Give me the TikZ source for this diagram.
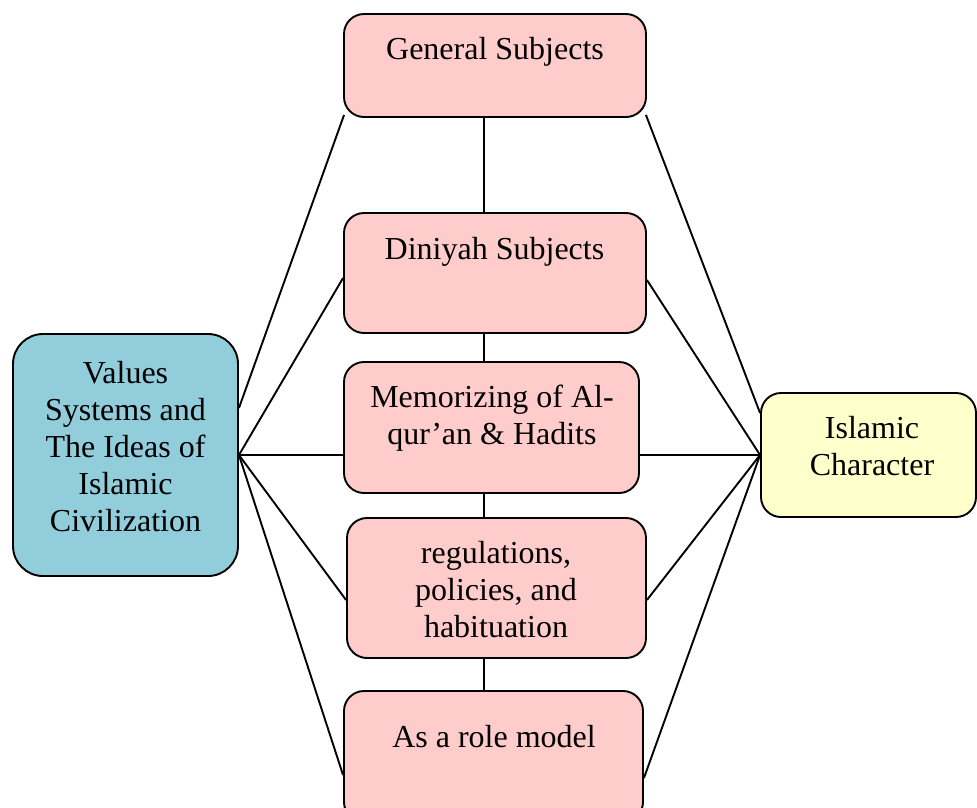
\documentclass[tikz,border=0pt]{standalone}
\usepackage{fontspec}
\setmainfont{Liberation Serif}
\definecolor{pinkc}{HTML}{FFCCCC}
\definecolor{bluec}{HTML}{92CDDC}
\definecolor{yellowc}{HTML}{FFFFCC}
\tikzset{
  box/.style={draw, line width=1.9pt, rounded corners=20pt, inner sep=0pt},
  pinkbox/.style={box, fill=pinkc},
  lbl/.style={anchor=north, inner sep=0pt, align=center, font=\fontsize{32}{37}\selectfont},
  conn/.style={line width=1.9pt},
}
\begin{document}
\begin{tikzpicture}[x=1pt, y=-1pt]
\useasboundingbox (0,0) rectangle (977,807);
% boxes
\node[pinkbox, minimum width=302pt, minimum height=103pt] (gen) at (495,65.5) {};
\node[pinkbox, minimum width=302pt, minimum height=120pt] (din) at (495,273) {};
\node[pinkbox, minimum width=295pt, minimum height=131pt] (mem) at (491.5,427.5) {};
\node[pinkbox, minimum width=299pt, minimum height=140pt] (reg) at (496.5,588) {};
\node[pinkbox, minimum width=299pt, minimum height=131pt] (role) at (493.5,756.5) {};
\node[box, fill=bluec, rounded corners=30pt, minimum width=225pt, minimum height=242pt] (val) at (125.5,455) {};
\node[box, fill=yellowc, minimum width=215pt, minimum height=124pt] (isl) at (868.5,455) {};
% labels
\node[lbl] (genT) at (495,33.1) {\strut General Subjects};
\node[lbl] (dinT) at (494.5,233.1) {\strut Diniyah Subjects};
\node[lbl] (memT) at (492,381.1) {\strut Memorizing of Al-\\qur’an \& Hadits};
\node[lbl] (regT) at (496,537.1) {\strut regulations,\\policies, and\\habituation};
\node[lbl] (roleT) at (494,721.1) {\strut As a role model};
\node[lbl] (valT) at (125.5,357.1) {\strut Values\\Systems and\\The Ideas of\\Islamic\\Civilization};
\node[lbl] (islT) at (872,412.1) {\strut Islamic\\Character};
% vertical connectors
\coordinate (vx) at (484,0);
\draw[conn] (gen.south -| vx) -- (din.north -| vx);
\draw[conn] (din.south -| vx) -- (mem.north -| vx);
\draw[conn] (mem.south -| vx) -- (reg.north -| vx);
\draw[conn] (reg.south -| vx) -- (role.north -| vx);
% left fan
\draw[conn] ([yshift=47pt]val.east) -- ([xshift=1pt,yshift=3pt]gen.south west);
\draw[conn] (val.east) -- ([yshift=-5pt]din.west);
\draw[conn] (val.east) -- (val.east -| mem.west);
\draw[conn] (val.east) -- ([yshift=-12pt]reg.west);
\draw[conn] (val.east) -- ([yshift=-18.5pt]role.west);
% right fan
\draw[conn] ([xshift=-1pt,yshift=3pt]gen.south east) -- ([yshift=42pt]isl.west);
\draw[conn] ([yshift=-7pt]din.east) -- (isl.west);
\draw[conn] (isl.west -| mem.east) -- (isl.west);
\draw[conn] ([yshift=-12pt]reg.east) -- (isl.west);
\draw[conn] ([yshift=-21.5pt]role.east) -- (isl.west);
\end{tikzpicture}
\end{document}
